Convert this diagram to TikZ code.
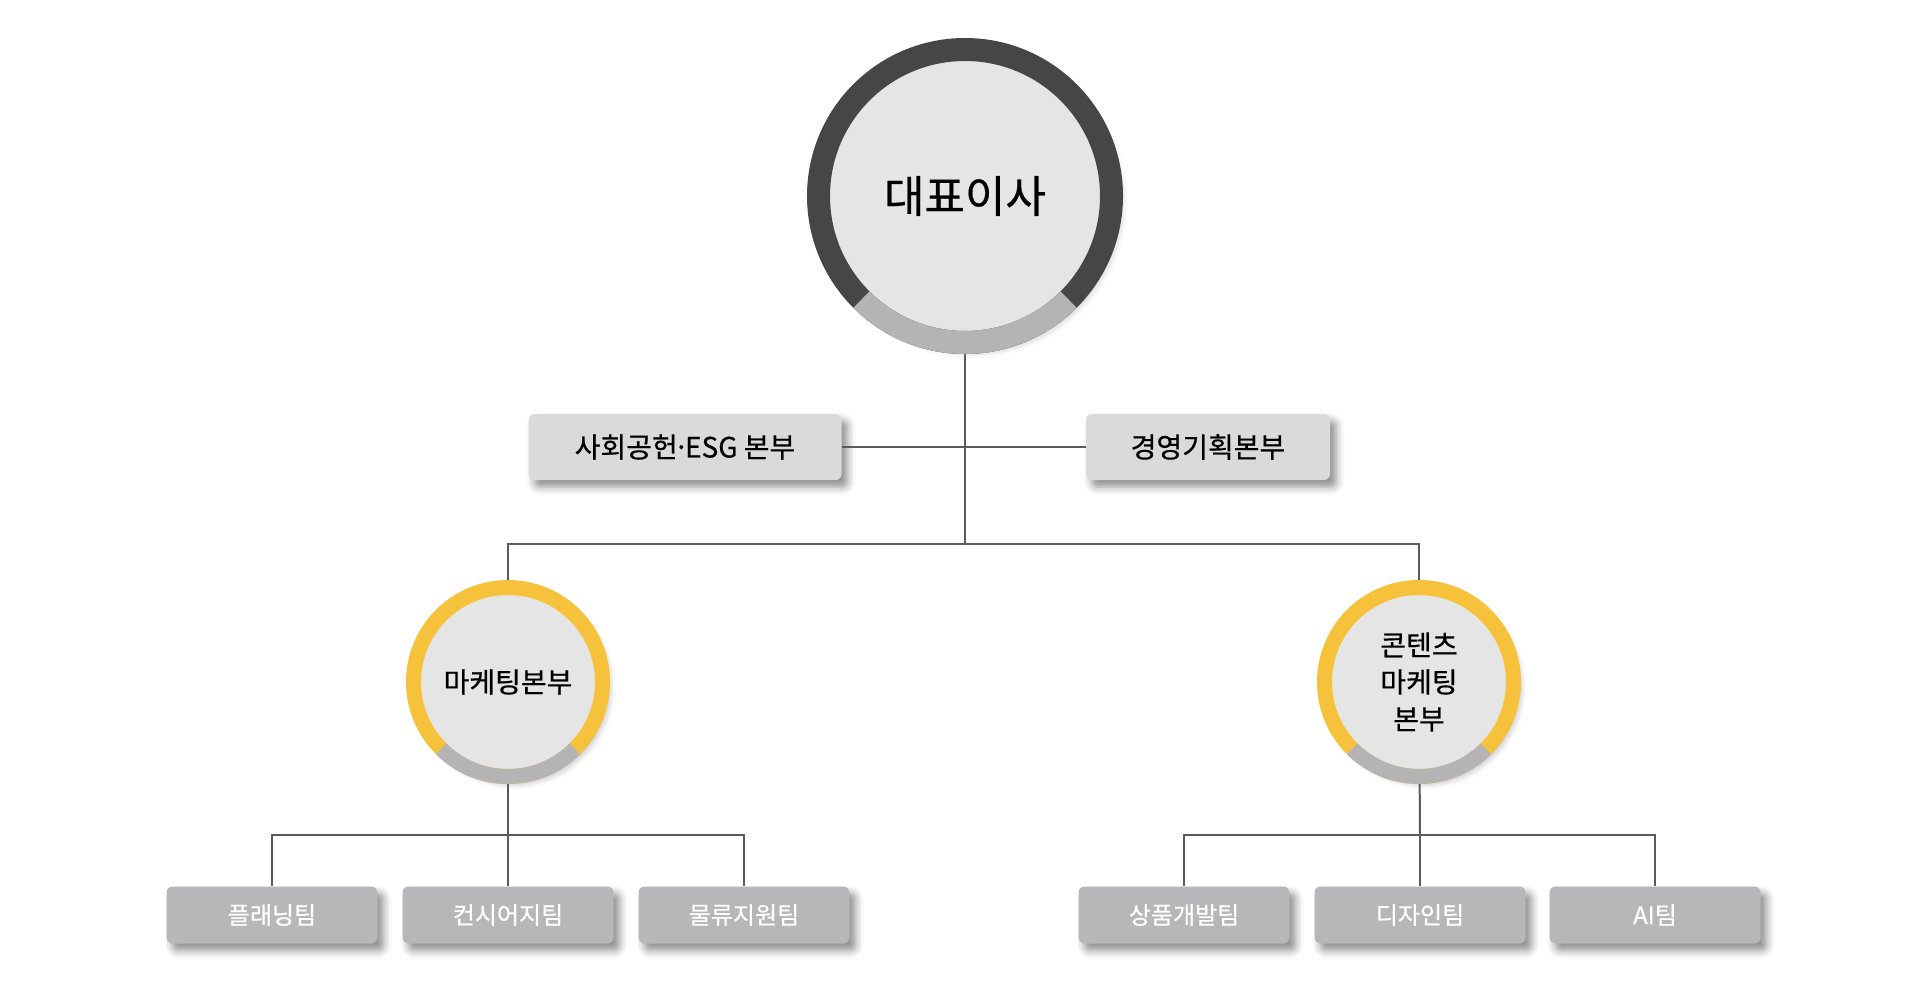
\documentclass[tikz,border=0pt]{standalone}
\usepackage{fontspec}
\setmainfont{Noto Sans CJK KR}
\newfontfamily\medfont{Noto Sans CJK KR}[FakeBold=0.6]
\usetikzlibrary{positioning, calc, shadows.blur}
\definecolor{ocdark}{HTML}{464646}
\definecolor{ocgray}{HTML}{B4B4B4}
\definecolor{ocdisk}{HTML}{E5E5E5}
\definecolor{ocgold}{HTML}{F6C13B}
\definecolor{ocmid}{HTML}{DADADA}
\definecolor{octeam}{HTML}{B6B7B9}
\definecolor{ocline}{HTML}{5B5B5B}

\begin{document}
\begin{tikzpicture}[x=1pt, y=-1pt,
  ceoring/.style={circle, draw=ocdark, fill=ocdisk, line width=23pt, minimum size=293pt, inner sep=0pt, font=\medfont\fontsize{44}{52}\selectfont, blur shadow={shadow xshift=6pt, shadow yshift=-6pt, shadow blur radius=10pt, shadow opacity=40}},
  divring/.style={circle, draw=ocgold, fill=ocdisk, line width=15pt, minimum size=189pt, inner sep=0pt, align=center, font=\medfont\fontsize{28}{37}\selectfont, blur shadow={shadow xshift=5pt, shadow yshift=-5pt, shadow blur radius=8pt, shadow opacity=40}},
  staff/.style={rectangle, fill=ocmid, rounded corners=6pt, minimum height=66pt, font=\medfont\fontsize{28}{32}\selectfont, blur shadow={shadow xshift=6pt, shadow yshift=-7pt, shadow blur radius=8pt, shadow opacity=45}},
  team/.style={rectangle, fill=octeam, rounded corners=6pt, minimum width=211pt, minimum height=57pt, text=white, font=\medfont\fontsize{24}{28}\selectfont, blur shadow={shadow xshift=6pt, shadow yshift=-7pt, shadow blur radius=8pt, shadow opacity=45}},
  conn/.style={ocline, line width=2pt},
  lowarc/.style={ocgray, line width=#1},
]
  \useasboundingbox (0,0) rectangle (1920,992);

  % CEO
  \node[ceoring] (ceo) at (965,196) {대표이사};
  \draw[lowarc=23pt] ($(ceo.center)+(-135:146.5pt)$) arc[start angle=-135, end angle=-45, radius=146.5pt];

  % Staff divisions
  \node[staff, minimum width=313pt] (esg) at (685,447) {사회공헌{\kern-0.15em}·{\kern-0.15em}ESG 본부};
  \node[staff, minimum width=244pt] (plan) at (1208,447) {경영기획본부};

  % Divisions
  \node[divring] (mkt) at (508,682) {마케팅본부};
  \node[divring] (cmk) at (1419,682) {콘텐츠\\마케팅\\본부};
  \draw[lowarc=15pt] ($(mkt.center)+(-135:94.5pt)$) arc[start angle=-135, end angle=-45, radius=94.5pt];
  \draw[lowarc=15pt] ($(cmk.center)+(-135:94.5pt)$) arc[start angle=-135, end angle=-45, radius=94.5pt];

  % Teams
  \node[team] (pln) at (272,915) {플래닝팀};
  \node[team] (con) at (508,915) {컨시어지팀};
  \node[team] (log) at (744,915) {물류지원팀};
  \node[team] (prd) at (1184,915) {상품개발팀};
  \node[team] (dsn) at (1420,915) {디자인팀};
  \node[team] (ait) at (1655,915) {AI팀};

  % Hubs
  \coordinate (hub) at (965,544);
  \coordinate (mhub) at (508,835);
  \coordinate (chub) at (1420,835);

  % Connectors
  \draw[conn] (esg) -- (plan);
  \draw[conn] (ceo) -- (hub);
  \draw[conn] (mkt.north) |- (hub) -| (cmk.north);
  \draw[conn] (mkt) -- (mhub);
  \draw[conn] (pln.north) |- (mhub) -| (log.north);
  \draw[conn] (mhub) -- (con.north);
  \draw[conn] (cmk) -- (chub);
  \draw[conn] (prd.north) |- (chub) -| (ait.north);
  \draw[conn] (chub) -- (dsn.north);
\end{tikzpicture}
\end{document}
